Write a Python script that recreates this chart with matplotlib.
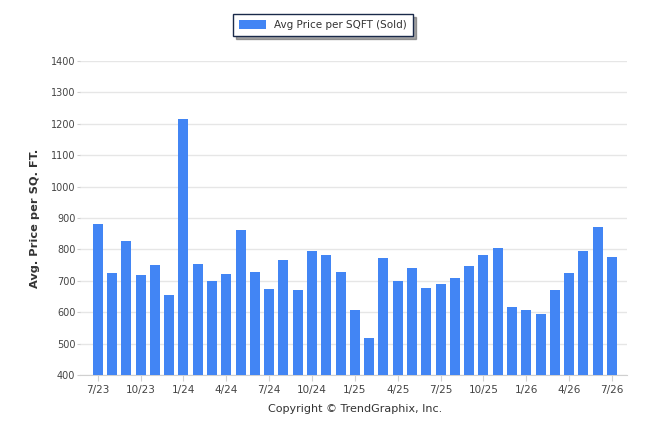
import matplotlib
matplotlib.use("Agg")
import matplotlib.pyplot as plt
import numpy as np

months = ["7/23","8/23","9/23","10/23","11/23","12/23","1/24","2/24","3/24","4/24","5/24","6/24",
          "7/24","8/24","9/24","10/24","11/24","12/24","1/25","2/25","3/25","4/25","5/25","6/25",
          "7/25","8/25","9/25","10/25","11/25","12/25","1/26","2/26","3/26","4/26","5/26","6/26","7/26"]
values = [881, 725, 827, 718, 750, 655, 1215, 753, 700, 722, 862, 728,
          674, 766, 671, 795, 782, 728, 607, 518, 772, 699, 741, 677,
          690, 709, 747, 782, 804, 616, 607, 594, 671, 725, 795, 871, 776]
tick_labels = ["7/23","10/23","1/24","4/24","7/24","10/24","1/25","4/25","7/25","10/25","1/26","4/26","7/26"]
series_name = "Avg Price per SQFT (Sold)"
y_ticks = [400, 500, 600, 700, 800, 900, 1000, 1100, 1200, 1300, 1400]

fig = plt.figure(figsize=(6.46, 4.34), dpi=100)
ax = fig.add_axes([80/646, 59/434, 547/646, 314/434])

x = np.arange(len(months))
bars = ax.bar(x, values, width=0.7, color="#4285f4", zorder=3, label=series_name)

ax.set_ylim(400, 1400)
ax.set_xlim(-1.24, len(months) - 1 + 1.05)
ax.set_yticks(y_ticks)
ax.set_yticklabels([str(v) for v in y_ticks])
tick_pos = [months.index(t) for t in tick_labels]
ax.set_xticks(tick_pos)
ax.set_xticklabels(tick_labels)

ax.grid(axis="y", color="#e6e6e6", linewidth=1, zorder=0)
for s in ["top", "right", "left"]:
    ax.spines[s].set_visible(False)
ax.spines["bottom"].set_color("#d0d0d0")
ax.tick_params(axis="y", length=2.5, color="#d0d0d0", labelsize=7, labelcolor="#444444", pad=0.8)
ax.tick_params(axis="x", length=4, color="#d0d0d0", labelsize=7.5, labelcolor="#444444", pad=3)

ax.set_ylabel("Avg. Price per SQ. FT.", fontsize=8.2, fontweight="bold", color="#333333", labelpad=8)

fig.text(355/646, 1 - 409/434, "Copyright \u00a9 TrendGraphix, Inc.", ha="center", va="center",
         fontsize=8, color="#333333")

leg = fig.legend(handles=[bars], labels=[series_name], loc="center", bbox_to_anchor=(323/646, 1 - 25/434),
                 fontsize=7.5, frameon=True, fancybox=False, shadow=True, handlelength=2.6, handleheight=0.9,
                 borderpad=0.55, labelcolor="#333333")
leg.get_frame().set_edgecolor("#1a2a4a")
leg.get_frame().set_linewidth(1.0)

fig.savefig("out.png", dpi=100)
